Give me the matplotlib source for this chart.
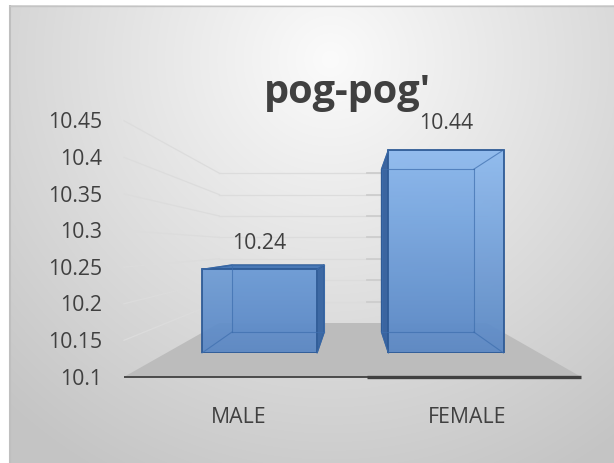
import numpy as np
import matplotlib
matplotlib.use('Agg')
import matplotlib.pyplot as plt
from matplotlib.patches import Polygon
from matplotlib.colors import LinearSegmentedColormap

# ---------------- data ----------------
categories = ['MALE', 'FEMALE']
values = [10.24, 10.44]
value_labels = ['10.24', '10.44']
y_ticks = [10.1, 10.15, 10.2, 10.25, 10.3, 10.35, 10.4, 10.45]
tick_labels = ['10.1', '10.15', '10.2', '10.25', '10.3', '10.35', '10.4', '10.45']
title = "pog-pog'"
y_min, y_max = 10.1, 10.45

# ---------------- style / layout ----------------
FONT = 'Open Sans'
TXT = '#404040'
FS = 15.3
W, H = 614, 464
F_FLOOR_FRONT = 1.226   # perspective factor of front floor edge
F_BAR_FRONT = 1.0
F_BAR_BACK = 0.802
F_WALL = 0.717
VP = np.array([0.502, 0.507])  # vanishing point (axes fraction)
BAR_W = 0.617

fig = plt.figure(figsize=(W / 100, H / 100), dpi=100)

# background gradient + border
bg = fig.add_axes([0, 0, 1, 1], zorder=-10)
bg.set_xlim(0, W)
bg.set_ylim(H, 0)
bg.axis('off')
yy, xx = np.mgrid[0:H, 0:W]
d = np.hypot(xx - 330, (yy - 60) * 1.0)
g = np.clip(251 - 0.115 * d, 196, 251) / 255.0
g[(xx < 9) | (yy < 6)] = 1.0
bg.imshow(np.dstack([g, g, g]), extent=[0, W, H, 0], origin='upper',
          interpolation='bilinear', aspect='auto')
bg.plot([9.5, 9.5], [6, H], color='#bfbfbf', lw=1.5, solid_capstyle='butt')
bg.plot([9, W], [6.5, 6.5], color='#c4c4c4', lw=1.0, solid_capstyle='butt')

# main axes (front plane of the bars)
ax = fig.add_axes([166.25 / W, 1 - 354 / H, 373 / W, 209 / H])
ax.set_xlim(-0.5, 1.5)
ax.set_ylim(y_min, y_max)
ax.axis('off')
ax.patch.set_alpha(0)

to_axes = ax.transData + ax.transAxes.inverted()


def P(x, y, f):
    p = to_axes.transform((x, y))
    return VP + (p - VP) * f


def poly(pts, **kw):
    ax.add_patch(Polygon(np.array(pts), closed=True, transform=ax.transAxes,
                         clip_on=False, **kw))


def line(p0, p1, **kw):
    ax.plot([p0[0], p1[0]], [p0[1], p1[1]], transform=ax.transAxes,
            clip_on=False, **kw)


x_lo, x_hi = -0.5, 1.5

# floor
poly([P(x_lo, y_min, F_FLOOR_FRONT), P(x_hi, y_min, F_FLOOR_FRONT),
      P(x_hi, y_min, F_WALL), P(x_lo, y_min, F_WALL)],
     facecolor='#bcbcbc', edgecolor='none', zorder=1)

# gridlines (side wall + back wall)
for t in y_ticks[1:]:
    line(P(x_lo, t, F_FLOOR_FRONT), P(x_lo, t, F_WALL), color='#dcdcdc', lw=0.9, zorder=1.5)
    line(P(x_lo, t, F_WALL), P(x_hi, t, F_WALL), color='#dcdcdc', lw=0.9, zorder=1.5)
    line(P(0.605, t, F_WALL), P(0.72, t, F_WALL), color='#cdcdcd', lw=1.3, zorder=1.6)

# horizontal axis line along floor front edge
line(P(x_lo, y_min, F_FLOOR_FRONT), P(x_hi, y_min, F_FLOOR_FRONT),
     color='#404040', lw=1.3, zorder=2, solid_capstyle='butt')
line(P(0.565, y_min, F_FLOOR_FRONT), P(x_hi, y_min, F_FLOOR_FRONT),
     color='#404040', lw=2.4, zorder=2, solid_capstyle='butt')

# bars
xs = np.arange(len(categories))
bars = ax.bar(xs, [v - y_min for v in values], bottom=y_min, width=BAR_W,
              color='none', edgecolor='#2f5b96', lw=1.3, zorder=6)

cmap = LinearSegmentedColormap.from_list('barg', ['#5987c4', '#8ebbf0'])
grad = np.linspace(0, 1, 256).reshape(-1, 1)

edge_c = '#2f5b96'
inner_c = '#3d6eae'
for i, (b, v) in enumerate(zip(bars, values)):
    x0, x1 = i - BAR_W / 2, i + BAR_W / 2
    fr = [P(x0, y_min, F_BAR_FRONT), P(x1, y_min, F_BAR_FRONT),
          P(x1, v, F_BAR_FRONT), P(x0, v, F_BAR_FRONT)]
    bk = [P(x0, y_min, F_BAR_BACK), P(x1, y_min, F_BAR_BACK),
          P(x1, v, F_BAR_BACK), P(x0, v, F_BAR_BACK)]
    # back face
    poly(bk, facecolor='#5f8ecb', edgecolor='none', alpha=0.5, zorder=3)
    # visible side faces
    if fr[0][0] > VP[0]:
        poly([fr[0], fr[3], bk[3], bk[0]], facecolor='#3b65a0', edgecolor=edge_c,
             lw=1.0, zorder=4)
    if fr[1][0] < VP[0]:
        poly([fr[1], fr[2], bk[2], bk[1]], facecolor='#3d69a4', edgecolor=edge_c,
             lw=1.0, zorder=4)
    if fr[3][1] < VP[1]:
        poly([fr[3], fr[2], bk[2], bk[3]], facecolor='#4a79b6', edgecolor=edge_c,
             lw=1.0, zorder=4)
    # front face gradient
    im = ax.imshow(grad, extent=[x0, x1, y_min, y_max], origin='lower',
                   cmap=cmap, aspect='auto', alpha=0.93, zorder=5,
                   interpolation='bilinear')
    im.set_clip_path(b)
    # inner (back) edges seen through
    for k in range(4):
        line(bk[k], bk[(k + 1) % 4], color=inner_c, lw=0.8, alpha=0.7, zorder=7)
        line(fr[k], bk[k], color=inner_c, lw=0.8, alpha=0.7, zorder=7)
    # data label
    ax.annotate(value_labels[i], (i, v), xytext=(0, 19.5), textcoords='offset points',
                ha='center', va='center', fontsize=FS, color=TXT, family=FONT,
                annotation_clip=False)

ax.set_xlim(-0.5, 1.5)
ax.set_ylim(y_min, y_max)

# y tick labels on side wall front edge
for t, lab in zip(y_ticks, tick_labels):
    ax.annotate(lab, P(x_lo, t, F_FLOOR_FRONT), xycoords='axes fraction',
                xytext=(-15.8, -0.8), textcoords='offset points', ha='right', va='center',
                fontsize=FS, color=TXT, family=FONT, annotation_clip=False)

# category labels
for i, c in enumerate(categories):
    ax.annotate(c, P(i, y_min, F_FLOOR_FRONT), xycoords='axes fraction',
                xytext=(0, -28.5), textcoords='offset points', ha='center', va='center',
                fontsize=FS, color=TXT, family=FONT, annotation_clip=False)

fig.text(347 / W, 1 - 103 / H, title, ha='center', va='baseline', fontsize=28.5,
         weight='bold', color='#404040', family=FONT)

fig.savefig('out.png', dpi=100)
